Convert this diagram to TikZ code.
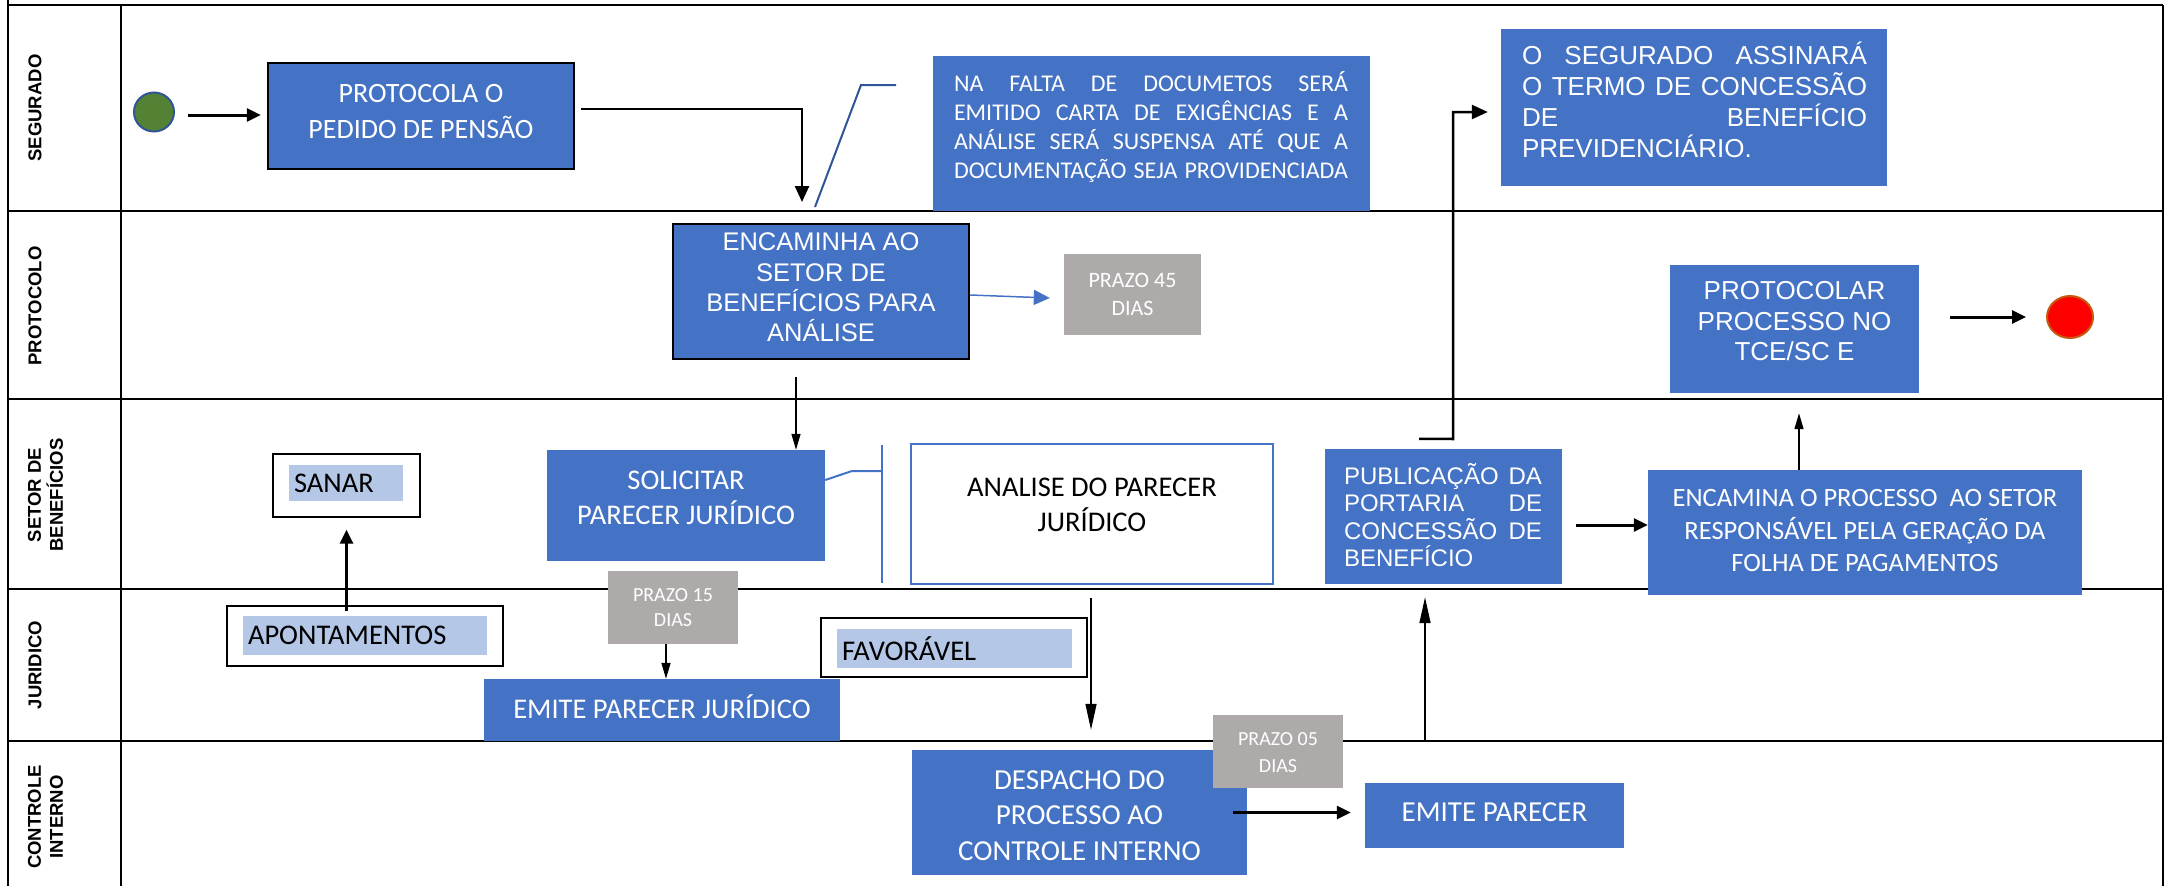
\documentclass[tikz,border=0pt]{standalone}
\usepackage{fontspec}
\setmainfont{Carlito}
\newfontfamily\arialf{Liberation Sans}
\usetikzlibrary{arrows.meta,shapes.geometric}
\definecolor{cblue}{HTML}{4472C4}
\definecolor{dblue}{HTML}{2F5597}
\definecolor{cgray}{HTML}{AEAAAA}
\definecolor{lblue}{HTML}{B4C7E7}
\definecolor{cgreen}{HTML}{548235}
\definecolor{cbrown}{HTML}{C55A11}
\newcommand{\fs}[2]{\fontsize{#1}{#2}\selectfont}
\begin{document}
\begin{tikzpicture}[x=1pt,y=-1pt,
  lane/.style={line width=2.2pt, black},
  lanelabel/.style={rotate=90, font=\arialf\bfseries\fs{18.5}{22}, align=center, inner sep=0pt},
  bluebox/.style={fill=cblue, inner sep=0pt},
  blackbox/.style={fill=cblue, draw=black, line width=2.5pt, inner sep=0pt},
  graybox/.style={fill=cgray, inner sep=0pt},
  outlinebox/.style={fill=white, draw=black, line width=1.3pt, inner sep=0pt},
  lbbox/.style={fill=lblue, inner ysep=0pt, inner xsep=5pt, align=left, text=black},
  wtext/.style={text=white, align=center, inner sep=0pt},
  btext/.style={text=black, align=center, inner sep=0pt},
  thickarrow/.style={line width=3pt, -{Triangle[length=14pt,width=13pt]}},
  medarrow/.style={line width=2.5pt, -{Triangle[length=16pt,width=14pt]}},
  thinarrow/.style={line width=1.5pt, -{Triangle[length=16pt,width=9pt]}},
  longarrow/.style={line width=1.5pt, -{Triangle[length=26pt,width=11pt]}},
  bluearrow/.style={line width=1.5pt, cblue, -{Triangle[length=16pt,width=15pt]}},
  blueline/.style={line width=2pt, dblue},
  bracketline/.style={line width=2pt, cblue},
  sz/.style 2 args={minimum width=#1, minimum height=#2},
]
\useasboundingbox (0,0) rectangle (2165,886);

% lanes
\draw[lane] (8,0) -- (8,886);
\draw[lane] (8,5) -- (2163,5);
\draw[lane] (121,5) -- (121,886);
\draw[lane] (2163,5) -- (2163,886);
\foreach \y in {211,399,589,741} \draw[lane] (8,\y) -- (2163,\y);

\node[lanelabel] (lSeg) at (35,108) {SEGURADO};
\node[lanelabel] (lProt) at (35,306) {PROTOCOLO};
\node[lanelabel] (lBen) at (45.5,495) {SETOR DE\\BENEFÍCIOS};
\node[lanelabel] (lJur) at (35,665) {JURIDICO};
\node[lanelabel] (lCI) at (45.5,817) {CONTROLE\\INTERNO};

% nodes
\node[ellipse, fill=cgreen, draw=dblue, line width=2pt, minimum width=40, minimum height=39, inner sep=0pt] (start) at (154,112) {};

\node[blackbox, sz={306}{106}] (protA) at (421,116) {};
\node[wtext, font=\fs{28}{36}] (protAt) at (421,112) {PROTOCOLA O\\PEDIDO DE PENSÃO};

\node[bluebox, sz={437}{155}] (naf) at (1151.5,133.5) {};
\node[wtext, align=left, font=\fs{24}{29.3}] (naft) at (1151,127) {\makebox[394pt][s]{NA FALTA DE DOCUMETOS SERÁ}\\ \makebox[394pt][s]{EMITIDO CARTA DE EXIGÊNCIAS E A}\\ \makebox[394pt][s]{ANÁLISE SERÁ SUSPENSA ATÉ QUE A}\\ \makebox[394pt][s]{DOCUMENTAÇÃO SEJA PROVIDENCIADA}};

\node[bluebox, sz={386}{157}] (seg) at (1694,107.5) {};
\node[wtext, align=left, font=\arialf\fs{26}{31}] (segt) at (1694.5,99.5) {\makebox[345pt][s]{O SEGURADO ASSINARÁ}\\ \makebox[345pt][s]{O TERMO DE CONCESSÃO}\\ \makebox[345pt][s]{DE BENEFÍCIO}\\ \makebox[345pt][l]{PREVIDENCIÁRIO.}};

\node[blackbox, sz={296}{135}] (encA) at (821,291.5) {};
\node[wtext, font=\arialf\fs{25.5}{30.3}] (encAt) at (821,287.5) {ENCAMINHA AO\\SETOR DE\\BENEFÍCIOS PARA\\ANÁLISE};

\node[graybox, sz={137}{81}] (p45) at (1132.5,294.5) {};
\node[wtext, font=\fs{22}{28}] (p45t) at (1132.5,294) {PRAZO 45\\DIAS};

\node[bluebox, sz={249}{128}] (protB) at (1794.5,329) {};
\node[wtext, font=\arialf\fs{26}{30.5}] (protBt) at (1794.5,321.5) {PROTOCOLAR\\PROCESSO NO\\TCE/SC E};

\node[ellipse, fill=red, draw=cbrown, line width=2pt, minimum width=46, minimum height=42, inner sep=0pt] (endc) at (2070,317) {};

\node[outlinebox, sz={147}{63}] (sanar) at (346.5,485.5) {};
\node[lbbox, sz={114}{36}, text width=104pt, font=\fs{28.5}{34}] (sanart) at (346,483) {SANAR};

\node[outlinebox, sz={276}{60}] (apont) at (365,636) {};
\node[lbbox, sz={244}{39}, text width=234pt, font=\fs{28.5}{34}] (apontt) at (365,635.5) {APONTAMENTOS};

\node[bluebox, sz={278}{111}] (solic) at (686,505.5) {};
\node[wtext, font=\fs{28.5}{35}] (solict) at (686,497.5) {SOLICITAR\\PARECER JURÍDICO};

\node[graybox, sz={130}{73}] (p15) at (673,607.5) {};
\node[wtext, font=\fs{20}{25}] (p15t) at (673,607.5) {PRAZO 15\\DIAS};

\node[bluebox, sz={356}{62}] (emiteJ) at (662,710) {};
\node[wtext, font=\fs{28.5}{35}] (emiteJt) at (662,707) {EMITE PARECER JURÍDICO};

\node[draw=cblue, fill=white, line width=2.5pt, sz={362}{140}, inner sep=0pt] (analise) at (1092,514) {};
\node[btext, font=\fs{28.5}{35}] (analiset) at (1092,504.5) {ANALISE DO PARECER\\JURÍDICO};

\node[outlinebox, sz={266}{59}] (fav) at (954,647.5) {};
\node[lbbox, sz={235}{39}, text width=225pt, font=\fs{28.5}{34}] (favt) at (954.5,648.5) {FAVORÁVEL};

\node[bluebox, sz={237}{135}] (pub) at (1443.5,516.5) {};
\node[wtext, align=left, font=\arialf\fs{24}{27.3}] (pubt) at (1443,515) {\makebox[198pt][s]{PUBLICAÇÃO DA}\\ \makebox[198pt][s]{PORTARIA DE}\\ \makebox[198pt][s]{CONCESSÃO DE}\\ \makebox[198pt][l]{BENEFÍCIO}};

\node[bluebox, sz={434}{125}] (encB) at (1865,532.5) {};
\node[wtext, font=\fs{26.5}{32.5}] (encBt) at (1865,530.5) {ENCAMINA O PROCESSO\ \ AO SETOR\\RESPONSÁVEL PELA GERAÇÃO DA\\FOLHA DE PAGAMENTOS};

\node[bluebox, sz={335}{125}] (desp) at (1079.5,812.5) {};
\node[wtext, font=\fs{29}{35.5}] (despt) at (1079.5,815.5) {DESPACHO DO\\PROCESSO AO\\CONTROLE INTERNO};

\node[graybox, sz={130}{73}] (p05) at (1278,751.5) {};
\node[wtext, font=\fs{20}{27}] (p05t) at (1278,752.5) {PRAZO 05\\DIAS};

\node[bluebox, sz={259}{65}] (emiteP) at (1494.5,815.5) {};
\node[wtext, font=\fs{29}{35}] (emitePt) at (1494.5,812) {EMITE PARECER};

% connectors
\draw[thickarrow] ([xshift=13pt,yshift=-3pt]start.east) -- ([xshift=-6pt,yshift=-3pt]start.east -| protA.west);
\coordinate (c1) at (802,202);
\draw[medarrow] ([xshift=6pt,yshift=7pt]protA.east) -| (c1);

\coordinate (ca1) at (815,207);
\coordinate (ca2) at (861,85);
\coordinate (ca3) at (896,85);
\draw[blueline] (ca1) -- (ca2) -- (ca3);

\draw[bluearrow] ([yshift=-3.5pt]encA.east) -- ([xshift=-14pt,yshift=-3.5pt]p45.west);
\draw[thinarrow] ([xshift=-25pt,yshift=-17pt]encA.south) -- ([xshift=-25pt]encA.south |- solic.north);

\coordinate (b1) at (852,471);
\coordinate (b2) at (882,471);
\coordinate (b3) at (882,445);
\coordinate (b4) at (882,583);
\draw[bracketline] ([yshift=25.5pt]solic.east) -- (b1) -- (b2);
\draw[bracketline] (b3) -- (b4);

\draw[longarrow] ([xshift=-1pt,yshift=-13pt]analise.south) -- ([xshift=-1pt,yshift=20pt]analise.south |- desp.north);
\draw[thickarrow] ([yshift=-6pt]apont.north -| sanar.south) -- ([yshift=-12pt]sanar.south);
\draw[thinarrow] ([xshift=-7pt]p15.south) -- ([xshift=-7pt]p15.south |- emiteJ.north);
\draw[thickarrow] ([xshift=-14pt]desp.east) -- ([xshift=-14pt]desp.east -| emiteP.west);

\coordinate (j1) at (1425,741);
\draw[longarrow] (j1) -- ([yshift=-13pt]pub.south -| j1);

\coordinate (k1) at (1453,439);
\draw[medarrow] ([xshift=-24.5pt,yshift=10pt]pub.north) -- (k1) |- ([xshift=-13pt,yshift=-4.5pt]seg.west);
\draw[thickarrow] ([xshift=14pt,yshift=-8.5pt]pub.east) -- ([yshift=-8.5pt]pub.east -| encB.west);
\draw[thinarrow] ([xshift=4.5pt]protB.south |- encB.north) -- ([xshift=4.5pt,yshift=-20pt]protB.south);
\draw[thickarrow] ([xshift=31pt]protB.east |- endc.west) -- ([xshift=-20pt]endc.west);
\end{tikzpicture}
\end{document}
